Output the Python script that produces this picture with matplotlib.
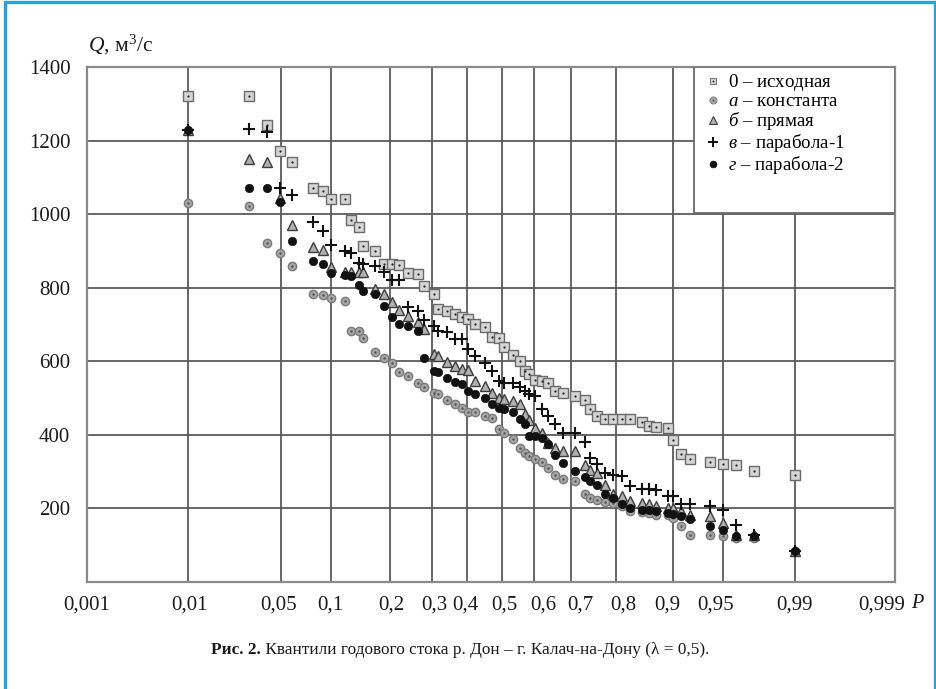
import numpy as np
import matplotlib
matplotlib.use('Agg')
import matplotlib.pyplot as plt
import matplotlib.transforms as mtransforms
from matplotlib.patches import Rectangle
from matplotlib.lines import Line2D
from statistics import NormalDist

plt.rcParams['font.family'] = ['Liberation Serif', 'DejaVu Serif']
plt.rcParams['mathtext.fontset'] = 'custom'
plt.rcParams['mathtext.rm'] = 'Liberation Serif'
plt.rcParams['mathtext.it'] = 'Liberation Serif:italic'
plt.rcParams['mathtext.bf'] = 'Liberation Serif:bold'

# ---------------- data ----------------
P = [0.010, 0.030, 0.040, 0.049, 0.059, 0.079, 0.090, 0.100, 0.120, 0.129,
     0.141, 0.149, 0.170, 0.188, 0.204, 0.220, 0.241, 0.265, 0.279, 0.306,
     0.317, 0.340, 0.364, 0.384, 0.403, 0.422, 0.450, 0.470, 0.490, 0.505,
     0.532, 0.555, 0.571, 0.584, 0.601, 0.620, 0.639, 0.657, 0.680, 0.710,
     0.733, 0.745, 0.760, 0.778, 0.795, 0.812, 0.829, 0.851, 0.863, 0.875,
     0.892, 0.900, 0.910, 0.920, 0.940, 0.950, 0.962, 0.974, 0.990]

Q0 = [1322, 1322, 1243, 1172, 1142, 1072, 1063, 1042, 1042, 983,
      965, 913, 901, 865, 865, 861, 840, 836, 806, 783,
      743, 738, 729, 720, 715, 702, 692, 667, 663, 638,
      617, 601, 574, 565, 549, 547, 542, 520, 515, 506,
      495, 470, 451, 442, 442, 442, 442, 436, 425, 421,
      418, 385, 347, 335, 327, 322, 317, 303, 290]

Qa = [1030, 1022, 921, 895, 859, 782, 779, 773, 763, 683,
      681, 663, 624, 608, 595, 572, 560, 540, 530, 515,
      511, 495, 483, 472, 461, 461, 452, 447, 415, 404,
      388, 365, 352, 343, 335, 326, 311, 292, 279, 274,
      240, 229, 224, 218, 215, 206, 192, 190, 188, 183,
      183, 174, 151, 129, 127, 124, 120, 120, 83]

Qb = [1230, 1150, 1141, 1045, 970, 911, 903, 856, 844, 842,
      842, 842, 797, 783, 761, 740, 724, 706, 688, 621,
      615, 597, 587, 579, 575, 547, 533, 515, 501, 497,
      492, 483, 456, 440, 420, 405, 379, 365, 356, 356,
      318, 305, 295, 265, 240, 233, 220, 215, 211, 206,
      201, 201, 192, 183, 179, 160, 129, 129, 83]

Qv = [1230, 1231, 1222, 1072, 1052, 979, 953, 915, 899, 895,
      868, 865, 858, 842, 820, 820, 747, 738, 713, 697,
      683, 679, 661, 661, 633, 615, 595, 574, 547, 542,
      542, 530, 520, 512, 506, 470, 451, 429, 406, 406,
      380, 338, 320, 297, 292, 288, 261, 252, 252, 249,
      233, 233, 211, 211, 206, 197, 156, 129, 83]

Qg = [1230, 1072, 1072, 1033, 926, 872, 865, 840, 835, 833,
      808, 792, 783, 750, 720, 702, 695, 683, 610, 574,
      570, 555, 545, 538, 520, 510, 500, 485, 474, 470,
      461, 442, 430, 397, 397, 392, 374, 345, 324, 301,
      285, 275, 265, 240, 228, 213, 201, 197, 195, 192,
      188, 186, 179, 170, 151, 142, 124, 124, 83]

tick_p = [0.001, 0.01, 0.05, 0.1, 0.2, 0.3, 0.4, 0.5, 0.6, 0.7, 0.8, 0.9,
          0.95, 0.99, 0.999]
tick_labels = ['0,001', '0,01', '0,05', '0,1', '0,2', '0,3', '0,4', '0,5',
               '0,6', '0,7', '0,8', '0,9', '0,95', '0,99', '0,999']
y_ticks = [200, 400, 600, 800, 1000, 1200, 1400]

legend_labels = [r'$\mathrm{0}$ – исходная', r'$\mathit{а}$ – константа',
                 r'$\mathit{б}$ – прямая', r'$\mathit{в}$ – парабола-1',
                 r'$\mathit{г}$ – парабола-2']

# ------------- probability paper scale (as drawn in the source) -------------
nd = NormalDist()
grid_px = [87, 188, 281, 331, 390, 432, 467.3, 502.3, 534.5, 571, 616,
           673.3, 722.7, 795, 895]
# horizontal nudges of the tick labels (px), as typeset in the source
label_dx = [0, 1, -2, -1, 1, 2, -2, 2, 9, 9, 7, -6, -7, 0, -13]
tz = [nd.inv_cdf(p) for p in tick_p]
sl = (grid_px[1] - grid_px[0]) / (tz[1] - tz[0])
sr = (grid_px[-1] - grid_px[-2]) / (tz[-1] - tz[-2])
ZZ = np.array([-12.0] + tz + [12.0])
UU = np.array([grid_px[0] - sl * (tz[0] + 12.0)] + grid_px +
              [grid_px[-1] + sr * (12.0 - tz[-1])])


def fwd(p):
    p = np.clip(np.asarray(p, dtype=float), 1e-12, 1 - 1e-12)
    flat = p.ravel()
    z = np.array([nd.inv_cdf(v) if np.isfinite(v) else np.nan for v in flat])
    return np.interp(z, ZZ, UU).reshape(p.shape)


def inv(u):
    u = np.asarray(u, dtype=float)
    z = np.interp(u.ravel(), UU, ZZ)
    return np.array([nd.cdf(v) if np.isfinite(v) else np.nan
                     for v in z]).reshape(u.shape)


# ---------------- figure ----------------
W, H = 937, 689
fig = plt.figure(figsize=(W / 100, H / 100), dpi=100)
ax = fig.add_axes([87 / W, 1 - 582 / H, (895 - 87) / W, (582 - 67) / H])
ax.set_xscale('function', functions=(fwd, inv))
ax.set_xlim(0.001, 0.999)
ax.set_ylim(0, 1400)
ax.set_xticks(tick_p)
ax.set_xticklabels(tick_labels)
ax.set_yticks(y_ticks)
ax.set_yticklabels([str(v) for v in y_ticks])
ax.minorticks_off()
ax.tick_params(axis='both', length=0, labelsize=15, colors='#1a1a1a')
ax.tick_params(axis='x', pad=10)
ax.tick_params(axis='y', pad=12)
for lbl, dx in zip(ax.get_xticklabels(), label_dx):
    lbl.set_transform(lbl.get_transform() +
                      mtransforms.ScaledTranslation(dx / 100, 0, fig.dpi_scale_trans))
ax.set_axisbelow(True)
ax.grid(True, color='#5a5a5a', lw=1.3)
for s in ax.spines.values():
    s.set_color('#8a8a8a')
    s.set_linewidth(1.6)

# series
ax.plot(P, Q0, ls='none', marker='s', ms=6.5, mfc='#d4d4d4', mec='#6a6a6a',
        mew=1.0, zorder=3)
ax.plot(P, Q0, ls='none', marker='o', ms=1.6, mfc='#222222', mec='#222222',
        mew=0, zorder=3.1)
ax.plot(P, Qa, ls='none', marker='o', ms=6.0, mfc='#a6a6a6', mec='#7a7a7a',
        mew=1.0, zorder=3)
ax.plot(P, Qa, ls='none', marker='o', ms=1.8, mfc='#555555', mec='#555555',
        mew=0, zorder=3.1)
ax.plot(P, Qb, ls='none', marker='^', ms=6.5, mfc='#b0b0b0', mec='#3c3c3c',
        mew=1.0, zorder=3.2)
ax.plot(P, Qv, ls='none', marker='+', ms=8.5, mec='#111111', mew=1.5,
        zorder=3.3)
ax.plot(P, Qg, ls='none', marker='o', ms=6.0, mfc='#111111', mec='#111111',
        mew=0.5, zorder=3.4)

# legend box
ax.add_patch(Rectangle((0.751, 0.7165), 0.249, 0.2835, transform=ax.transAxes,
                       fc='white', ec='#6a6a6a', lw=1.3, zorder=4))
h0 = (Line2D([], [], ls='none', marker='s', ms=5, mfc='#d4d4d4', mec='#7a7a7a', mew=0.8),
      Line2D([], [], ls='none', marker='o', ms=1.3, mfc='#222', mec='#222', mew=0))
ha = (Line2D([], [], ls='none', marker='o', ms=5, mfc='#a6a6a6', mec='#8a8a8a', mew=0.8),
      Line2D([], [], ls='none', marker='o', ms=1.4, mfc='#555', mec='#555', mew=0))
hb = Line2D([], [], ls='none', marker='^', ms=5.5, mfc='#b0b0b0', mec='#3c3c3c', mew=0.8)
hv = Line2D([], [], ls='none', marker='+', ms=6.5, mec='#111', mew=1.4)
hg = Line2D([], [], ls='none', marker='o', ms=5, mfc='#111', mec='#111', mew=0.4)
leg = ax.legend([h0, ha, hb, hv, hg], legend_labels, loc='upper left',
                bbox_to_anchor=(0.766, 0.99), frameon=False, fontsize=13.6,
                handlelength=0.8, handletextpad=0.35, labelspacing=0.0,
                borderaxespad=0, borderpad=0)
leg.set_zorder(5)

# axis titles
fig.text(88 / W, 1 - 45 / H, r'$\mathit{Q}$, м$^{3}$/с', fontsize=15.5,
         ha='left', va='center', color='#1a1a1a')
fig.text(911 / W, 1 - 603 / H, r'$\mathit{P}$', fontsize=14.5,
         ha='left', va='center', color='#1a1a1a')

# caption
fig.canvas.draw()
r = fig.canvas.get_renderer()
t1 = fig.text(0, 1 - 650 / H, 'Рис. 2.', fontsize=12.4, fontweight='bold',
              ha='left', va='center', color='#1a1a1a')
t2 = fig.text(0, 1 - 650 / H, ' Квантили годового стока р. Дон – г. Калач-на-Дону (λ = 0,5).',
              fontsize=12.4, ha='left', va='center', color='#1a1a1a')
w1 = t1.get_window_extent(r).width
w2 = t2.get_window_extent(r).width
x0 = 460 - (w1 + w2) / 2
t1.set_x(x0 / W)
t2.set_x((x0 + w1) / W)

# outer blue frame
fig.patches.append(Rectangle((5.5 / W, -0.01), (935.5 - 5.5) / W, 1.01 - 1.5 / H,
                             transform=fig.transFigure, fill=False,
                             ec='#1ea5e3', lw=2.4, zorder=10))

fig.savefig('out.png', dpi=100)
